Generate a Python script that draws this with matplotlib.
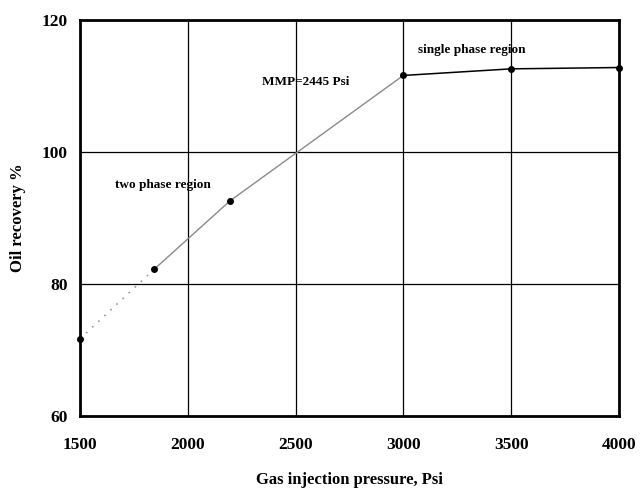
import matplotlib
matplotlib.use("Agg")
import matplotlib.pyplot as plt

# data
pressure = [1500, 1843, 2196, 3000, 3500, 4000]
recovery = [71.7, 82.2, 92.6, 111.6, 112.6, 112.8]
x_ticks = [1500, 2000, 2500, 3000, 3500, 4000]
y_ticks = [60, 80, 100, 120]

plt.rcParams["font.family"] = ["Liberation Serif", "DejaVu Serif"]
plt.rcParams["font.weight"] = "bold"

fig = plt.figure(figsize=(6.42, 4.88), dpi=100)
ax = fig.add_axes([0.1246, 0.1475, 0.8394, 0.8115])

# low-pressure extrapolation (dotted), two-phase (grey), single-phase (black)
ax.plot(pressure[:2], recovery[:2], linestyle=(0, (1, 4)), color="#999999", lw=1.2)
ax.plot(pressure[1:4], recovery[1:4], color="#8a8a8a", lw=1.0)
ax.plot(pressure[3:], recovery[3:], color="black", lw=1.1)
ax.plot(pressure, recovery, "o", color="black", ms=4, clip_on=False, zorder=5)

ax.set_xlim(1500, 4000)
ax.set_ylim(60, 120)
ax.set_xticks(x_ticks)
ax.set_yticks(y_ticks)
ax.tick_params(length=0, labelsize=12.5)
ax.tick_params(axis="x", pad=15)
ax.tick_params(axis="y", pad=9)
ax.grid(True, color="black", lw=0.9)
for s in ax.spines.values():
    s.set_linewidth(2)

ax.text(1662, 95, "two phase region", fontsize=9.5, fontweight="bold", va="center")
ax.text(2344, 110.6, "MMP=2445 Psi", fontsize=9.5, fontweight="bold", va="center")
ax.text(3068, 115.5, "single phase region", fontsize=9.5, fontweight="bold", va="center")

ax.set_xlabel("Gas injection pressure, Psi", fontsize=12, fontweight="bold", labelpad=14)
ax.set_ylabel("Oil recovery %", fontsize=12, fontweight="bold", labelpad=11)

fig.savefig("out.png", dpi=100)
